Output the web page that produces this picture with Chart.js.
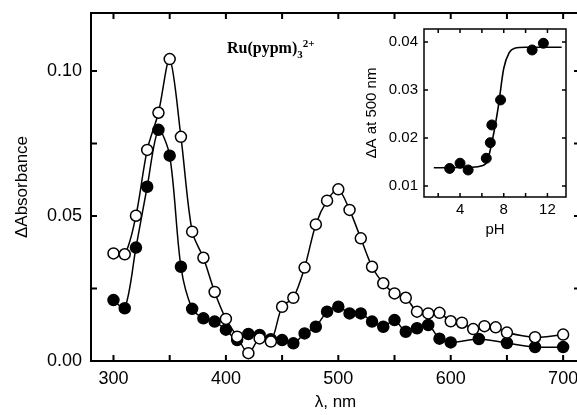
<!DOCTYPE html>
<html>
<head>
<meta charset="utf-8">
<script src="https://cdn.jsdelivr.net/npm/chart.js@4.4.1/dist/chart.umd.min.js"></script>
<style>
  html, body { margin: 0; padding: 0; background: #fff; overflow: hidden; }
  #wrap { position: relative; width: 577px; height: 415px; overflow: hidden; }
  #main { position: absolute; left: 0; top: 0; }
  #inset { position: absolute; left: 360px; top: 20px; }
  #label { position: absolute; left: 227px; top: 37px; font: bold 16px "Liberation Serif", serif; color: #000; }
  #label sub, #label sup { font-size: 11px; }
</style>
</head>
<body>
<div id="wrap">
  <canvas id="main" width="590" height="415"></canvas>
  <canvas id="inset" width="212" height="225"></canvas>
  <div id="label">Ru(pypm)<sub>3</sub><sup>2+</sup></div>
</div>
<script>
// spectrum, open circles
const wlOpen = [300, 310, 320, 330, 340, 350, 360, 370, 380, 390, 400, 410, 420, 430, 440, 450, 460, 470, 480, 490,
  500, 510, 520, 530, 540, 550, 560, 570, 580, 590, 600, 610, 620, 630, 640, 650, 675, 700];
const dAOpen = [0.0371, 0.0368, 0.0501, 0.0728, 0.0856, 0.1041, 0.0773, 0.0446, 0.0356, 0.0238, 0.0145, 0.0084, 0.0027,
  0.0078, 0.0067, 0.0187, 0.0218, 0.0322, 0.0471, 0.0553, 0.0592, 0.0521, 0.0423, 0.0325, 0.0268, 0.0233, 0.0218,
  0.0170, 0.0164, 0.0166, 0.0137, 0.0132, 0.0110, 0.0120, 0.0116, 0.0098, 0.0082, 0.0091];

// spectrum, filled circles
const wlFilled = [300, 310, 320, 330, 340, 350, 360, 370, 380, 390, 400, 410, 420, 430, 440, 450, 460, 470, 480, 490,
  500, 510, 520, 530, 540, 550, 560, 570, 580, 590, 600, 625, 650, 675, 700];
const dAFilled = [0.0210, 0.0182, 0.0391, 0.0601, 0.0797, 0.0708, 0.0325, 0.0180, 0.0147, 0.0136, 0.0108, 0.0072, 0.0093,
  0.0090, 0.0075, 0.0072, 0.0061, 0.0095, 0.0118, 0.0170, 0.0187, 0.0164, 0.0164, 0.0136, 0.0118, 0.0141, 0.0101,
  0.0113, 0.0124, 0.0077, 0.0064, 0.0076, 0.0062, 0.0048, 0.0048];

const xTicks = [300, 350, 400, 450, 500, 550, 600, 650, 700];
const xLabels = [300, 400, 500, 600, 700];
const yTicks = [0, 0.025, 0.05, 0.075, 0.10];
const yLabels = [0, 0.05, 0.10];

// inset: dA at 500 nm vs pH
const phPts = [3.05, 4.0, 4.74, 6.4, 6.77, 6.91, 7.71, 10.6, 11.63];
const dA500 = [0.01365, 0.01473, 0.01333, 0.01577, 0.01902, 0.02271, 0.02792, 0.03833, 0.03973];
// fitted curve
const phFit = [1.6, 5.0, 6.0, 6.5, 7.0, 7.5, 8.0, 8.5, 9.0, 10.0, 13.3];
const dAFit = [0.0138, 0.0139, 0.0142, 0.0152, 0.0200, 0.0265, 0.0345, 0.0378, 0.0387, 0.0389, 0.0389];

const insetXTicks = [2, 4, 6, 8, 10, 12];
const insetXLabels = [4, 8, 12];
const insetYTicks = [0.01, 0.02, 0.03, 0.04];

const pts = (xs, ys) => xs.map((v, i) => ({ x: v, y: ys[i] }));

// frame with inward ticks on all four sides
const frameTicks = {
  id: 'frameTicks',
  afterDatasetsDraw(chart, args, opts) {
    const ctx = chart.ctx, a = chart.chartArea;
    const x = chart.scales.x, y = chart.scales.y;
    const len = opts.len;
    ctx.save();
    ctx.strokeStyle = '#000';
    ctx.lineWidth = opts.lw;
    ctx.beginPath();
    x.ticks.forEach(t => {
      const px = x.getPixelForValue(t.value);
      ctx.moveTo(px, a.bottom); ctx.lineTo(px, a.bottom - len);
      ctx.moveTo(px, a.top); ctx.lineTo(px, a.top + len);
    });
    y.ticks.forEach(t => {
      const py = y.getPixelForValue(t.value);
      ctx.moveTo(a.left, py); ctx.lineTo(a.left + len, py);
      ctx.moveTo(a.right, py); ctx.lineTo(a.right - len, py);
    });
    ctx.stroke();
    ctx.strokeRect(a.left, a.top, a.right - a.left, a.bottom - a.top);
    ctx.restore();
  }
};

// fixed axis sizes, no extra room for overhanging labels
const fixSize = (w, h) => s => {
  if (w) s.width = w;
  if (h) s.height = h;
  s.paddingLeft = s.paddingRight = s.paddingTop = s.paddingBottom = 0;
};

const sans = '"Liberation Sans", Arial, sans-serif';

new Chart(document.getElementById('main'), {
  type: 'line',
  data: {
    datasets: [{
      data: pts(wlOpen, dAOpen),
      borderColor: '#000',
      borderWidth: 1.5,
      pointRadius: 5.5,
      pointBorderWidth: 1.5,
      pointBackgroundColor: '#fff',
      pointBorderColor: '#000',
      tension: 0.3
    }, {
      data: pts(wlFilled, dAFilled),
      borderColor: '#000',
      borderWidth: 1.5,
      pointRadius: 5.5,
      pointBorderWidth: 1.5,
      pointBackgroundColor: '#000',
      pointBorderColor: '#000',
      tension: 0.3
    }]
  },
  options: {
    responsive: false,
    animation: false,
    layout: { padding: { top: 13, right: 10, left: 0, bottom: 0 } },
    plugins: { legend: { display: false }, tooltip: { enabled: false }, frameTicks: { len: 6, lw: 2 } },
    scales: {
      x: {
        type: 'linear', min: 280, max: 715,
        grid: { display: false, drawTicks: false },
        border: { display: false },
        afterBuildTicks: s => { s.ticks = xTicks.map(v => ({ value: v })); },
        afterFit: fixSize(0, 54),
        ticks: {
          autoSkip: false, maxRotation: 0, padding: 7, color: '#000',
          font: { family: sans, size: 18 },
          callback: v => xLabels.includes(v) ? String(v) : ''
        },
        title: { display: true, text: 'λ, nm', color: '#000', font: { family: sans, size: 17 }, padding: { bottom: 2 } }
      },
      y: {
        min: 0, max: 0.12,
        grid: { display: false, drawTicks: false },
        border: { display: false },
        afterBuildTicks: s => { s.ticks = yTicks.map(v => ({ value: v })); },
        afterFit: fixSize(91, 0),
        ticks: {
          autoSkip: false, padding: 9, color: '#000',
          font: { family: sans, size: 18 },
          callback: v => yLabels.some(l => Math.abs(l - v) < 1e-9) ? v.toFixed(2) : ''
        },
        title: { display: true, text: 'ΔAbsorbance', color: '#000', font: { family: sans, size: 17 }, padding: { top: 12 } }
      }
    }
  },
  plugins: [frameTicks]
});

new Chart(document.getElementById('inset'), {
  type: 'line',
  data: {
    datasets: [{
      data: pts(phPts, dA500),
      showLine: false,
      pointRadius: 5,
      pointBackgroundColor: '#000',
      pointBorderColor: '#000'
    }, {
      data: pts(phFit, dAFit),
      borderColor: '#000',
      borderWidth: 1.6,
      pointRadius: 0,
      cubicInterpolationMode: 'monotone'
    }]
  },
  options: {
    responsive: false,
    animation: false,
    layout: { padding: { top: 9, right: 3, left: 0, bottom: 0 } },
    plugins: { legend: { display: false }, tooltip: { enabled: false }, frameTicks: { len: 4, lw: 1.5 } },
    scales: {
      x: {
        type: 'linear', min: 0.7, max: 13.7,
        grid: { display: false, drawTicks: false },
        border: { display: false },
        afterBuildTicks: s => { s.ticks = insetXTicks.map(v => ({ value: v })); },
        afterFit: fixSize(0, 48),
        ticks: {
          autoSkip: false, maxRotation: 0, padding: 4, color: '#000',
          font: { family: sans, size: 15 },
          callback: v => insetXLabels.includes(v) ? String(v) : ''
        },
        title: { display: true, text: 'pH', color: '#000', font: { family: sans, size: 15 }, padding: { bottom: 6 } }
      },
      y: {
        min: 0.0077, max: 0.0427,
        grid: { display: false, drawTicks: false },
        border: { display: false },
        afterBuildTicks: s => { s.ticks = insetYTicks.map(v => ({ value: v })); },
        afterFit: fixSize(64, 0),
        ticks: {
          autoSkip: false, padding: 6, color: '#000',
          font: { family: sans, size: 15 },
          callback: v => v.toFixed(2)
        },
        title: { display: true, text: 'ΔA at 500 nm', color: '#000', font: { family: sans, size: 15 }, padding: { top: 3 } }
      }
    }
  },
  plugins: [frameTicks]
});
</script>
</body>
</html>
